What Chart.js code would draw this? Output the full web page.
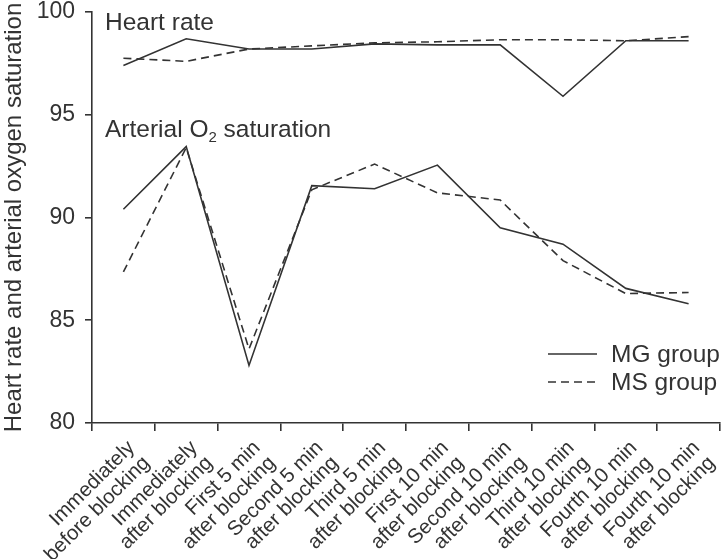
<!DOCTYPE html>
<html>
<head>
<meta charset="utf-8">
<script src="https://cdn.jsdelivr.net/npm/chart.js@4.4.0/dist/chart.umd.min.js"></script>
<style>
  body { margin: 0; background: #fff; }
  #wrap { width: 725px; height: 559px; }
</style>
</head>
<body>
<div id="wrap"><canvas id="chart"></canvas></div>
<script>
// time points (x categories), two lines each
let momentos = [
    ['Immediately', 'before blocking'],
    ['Immediately', 'after blocking'],
    ['First 5 min', 'after blocking'],
    ['Second 5 min', 'after blocking'],
    ['Third 5 min', 'after blocking'],
    ['First 10 min', 'after blocking'],
    ['Second 10 min', 'after blocking'],
    ['Third 10 min', 'after blocking'],
    ['Fourth 10 min', 'after blocking'],
    ['Fourth 10 min', 'after blocking']
];

// heart rate
let hrMG = [97.4, 98.7, 98.2, 98.2, 98.45, 98.4, 98.4, 95.9, 98.6, 98.6];
let hrMS = [97.75, 97.6, 98.2, 98.35, 98.5, 98.55, 98.65, 98.65, 98.6, 98.8];

// arterial O2 saturation
let o2MG = [90.4, 93.45, 82.8, 91.55, 91.4, 92.55, 89.5, 88.7, 86.55, 85.8];
let o2MS = [87.35, 93.4, 83.6, 91.35, 92.6, 91.2, 90.85, 87.9, 86.3, 86.35];

let yTicks = [80, 85, 90, 95, 100];

const tinta = '#333';
const fuente = '"Liberation Sans", Arial, sans-serif';
const guion = [8, 5];

function linea(data, dashed) {
    return {
        data: data,
        borderColor: tinta,
        borderWidth: 1.6,
        borderDash: dashed ? guion : [],
        pointRadius: 0,
        tension: 0,
        fill: false
    };
}

let datos = {
    labels: momentos,
    datasets: [
        Object.assign({ label: 'MG group HR' }, linea(hrMG, false)),
        Object.assign({ label: 'MS group HR' }, linea(hrMS, true)),
        Object.assign({ label: 'MG group SaO2' }, linea(o2MG, false)),
        Object.assign({ label: 'MS group SaO2' }, linea(o2MS, true))
    ]
};

// text labels and legend drawn on top
const rotulos = {
    id: 'rotulos',
    afterDraw(chart) {
        const ctx = chart.ctx;
        const a = chart.chartArea;
        ctx.save();
        ctx.fillStyle = tinta;
        ctx.textBaseline = 'alphabetic';
        ctx.textAlign = 'left';
        ctx.font = '24.5px ' + fuente;
        let x0 = a.left + 13;
        ctx.fillText('Heart rate', x0, a.top + 18);

        let yb = a.top + 125;
        let parte = 'Arterial O';
        ctx.fillText(parte, x0, yb);
        let x1 = x0 + ctx.measureText(parte).width;
        ctx.font = '15px ' + fuente;
        ctx.fillText('2', x1, yb + 5);
        x1 += ctx.measureText('2').width;
        ctx.font = '24.5px ' + fuente;
        ctx.fillText(' saturation', x1, yb);

        // legend
        let items = [['MG group', []], ['MS group', guion]];
        ctx.font = '24.5px ' + fuente;
        ctx.textBaseline = 'middle';
        ctx.lineWidth = 1.6;
        ctx.strokeStyle = tinta;
        items.forEach((it, i) => {
            let y = a.top + 342 + i * 28;
            ctx.setLineDash(it[1]);
            ctx.beginPath();
            ctx.moveTo(a.right - 172, y);
            ctx.lineTo(a.right - 123, y);
            ctx.stroke();
            ctx.fillText(it[0], a.right - 109, y + 1);
        });
        ctx.restore();
    }
};

let opciones = {
    responsive: true,
    maintainAspectRatio: false,
    animation: false,
    layout: { padding: { top: 0, right: 5, left: 0, bottom: 0 } },
    scales: {
        x: {
            offset: true,
            afterFit: (axis) => {
                axis.height = 136;
                axis.paddingLeft = 0;
                axis.paddingRight = 0;
            },
            border: { display: true, color: tinta, width: 1.6 },
            grid: { offset: true, drawOnChartArea: false, drawTicks: true, tickLength: 8, color: tinta, lineWidth: 1.6 },
            ticks: {
                color: tinta,
                font: { family: fuente, size: 20.5, lineHeight: 1.05 },
                minRotation: 45,
                maxRotation: 45,
                autoSkip: false,
                padding: 6,
                labelOffset: 8
            }
        },
        y: {
            min: 80,
            max: 100,
            afterFit: (axis) => {
                axis.width = 92;
                axis.paddingTop = 12;
                axis.paddingBottom = 0;
            },
            afterBuildTicks: (axis) => { axis.ticks = yTicks.map(v => ({ value: v })); },
            border: { display: true, color: tinta, width: 1.6 },
            grid: { drawOnChartArea: false, drawTicks: true, tickLength: 7, color: tinta, lineWidth: 1.6 },
            ticks: {
                color: tinta,
                font: { family: fuente, size: 23 },
                padding: 10
            },
            title: {
                display: true,
                text: 'Heart rate and arterial oxygen saturation',
                color: tinta,
                font: { family: fuente, size: 24 },
                padding: { top: 0, bottom: 2 }
            }
        }
    },
    plugins: {
        legend: { display: false },
        tooltip: { enabled: false }
    }
};

let ctx = document.getElementById('chart');

let miGrafica = new Chart(ctx, {
    type: 'line',
    data: datos,
    options: opciones,
    plugins: [rotulos]
});
</script>
</body>
</html>
